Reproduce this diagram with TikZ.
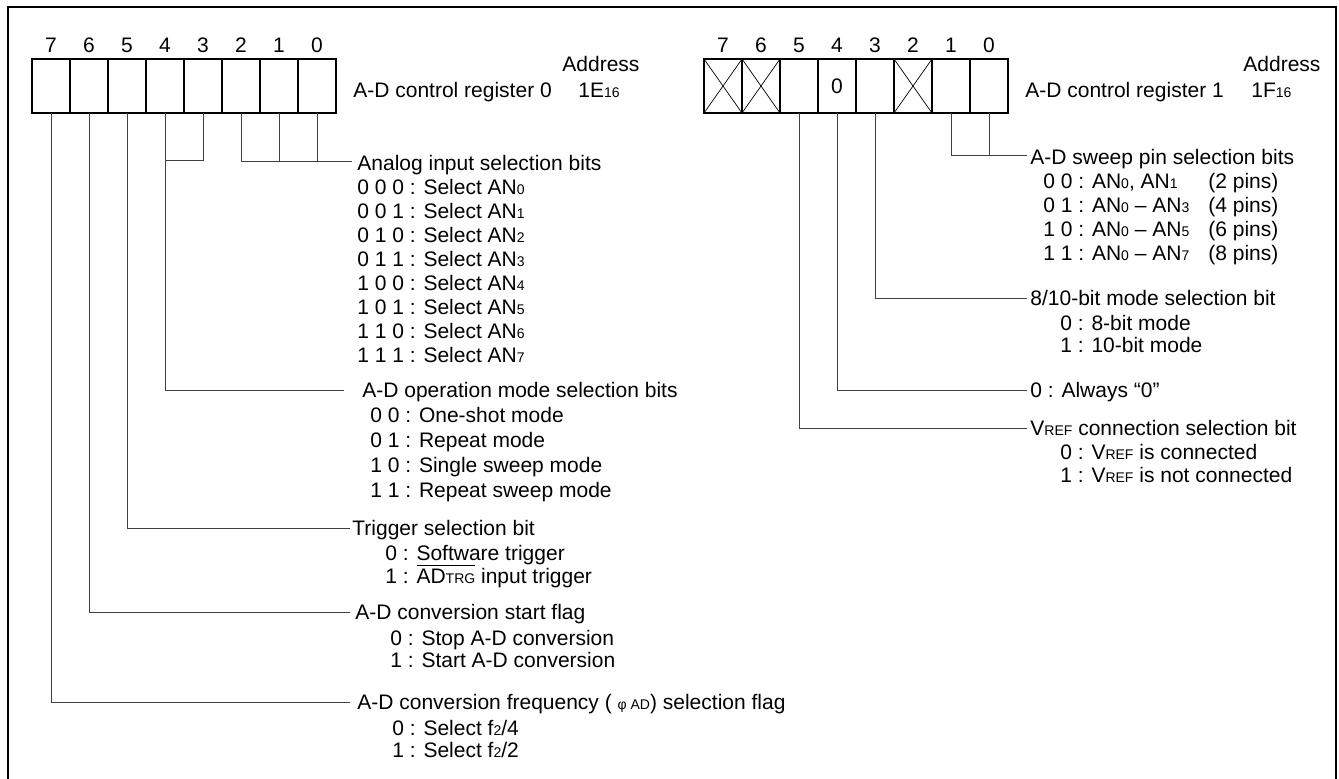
\documentclass[tikz,border=0pt]{standalone}
\usepackage{fontspec}
\setmainfont{Liberation Sans}
\usetikzlibrary{positioning}

\newcommand\sml[1]{{\fontsize{7}{8}\selectfont #1}}

\begin{document}
\begin{tikzpicture}[x=0.5pt, y=-0.5pt, font=\fontsize{10.5}{12}\selectfont,
    cell/.style={rectangle, draw, line width=1pt, minimum width=19pt, minimum height=27pt, inner sep=0pt, outer sep=0pt},
    bitno/.style={inner sep=0pt},
    txt/.style={anchor=base west, inner sep=0pt},
    lead/.style={draw=black!75, line width=0.5pt},
    cross/.style={draw, line width=0.35pt}]

    \useasboundingbox (0,0) rectangle (1339,778);
    \draw [line width=1.25pt] (8,800) -- (8,7) -- (1336,7) -- (1336,800);

    % register 0
    \foreach \b in {0,...,7} {
        \node [cell] (r0b\b) at ({51+38*(7-\b)},86) {};
        \node [bitno] (r0n\b) at ({51+38*(7-\b)},45) {\b};
    }
    \node [txt] (addr0) at (562,71) {Address};
    \node [txt] (name0) at (353,97) {A-D control register 0};
    \node [txt] (hex0) at (578,97) {1E\sml{16}};

    % register 1
    \foreach \b in {0,...,7} {
        \node [cell] (r1b\b) at ({723+38*(7-\b)},86) {};
        \node [bitno] (r1n\b) at ({723+38*(7-\b)},45) {\b};
    }
    \node (r1val) at (r1b4) {0};
    \foreach \b in {7,6,2}
        \draw [cross] (r1b\b.north west) -- (r1b\b.south east) (r1b\b.north east) -- (r1b\b.south west);
    \node [txt] (addr1) at (1243,71) {Address};
    \node [txt] (name1) at (1025,97) {A-D control register 1};
    \node [txt] (hex1) at (1251,97) {1F\sml{16}};

    % register 0 fields
    \coordinate (anaT) at (352,161);
    \coordinate (opT) at (344,390);
    \coordinate (trgT) at (350,528);
    \coordinate (stT) at (350,612);
    \coordinate (frqT) at (350,702);

    \draw [lead] (r0b2.south) |- (anaT);
    \draw [lead] (r0b1.south) -- (r0b1.south |- anaT);
    \draw [lead] (r0b0.south) -- (r0b0.south |- anaT);
    \draw [lead] (r0b3.south) |- (r0b4.south |- 0,160);
    \draw [lead] (r0b4.south) |- (opT);
    \draw [lead] (r0b5.south) |- (trgT);
    \draw [lead] (r0b6.south) |- (stT);
    \draw [lead] (r0b7.south) |- (frqT);

    \node [txt] (ana) at (357,170.5) {Analog input selection bits};
    \foreach \t [count=\k] in {{0 0 0 : Select AN\sml{0}}, {0 0 1 : Select AN\sml{1}},
        {0 1 0 : Select AN\sml{2}}, {0 1 1 : Select AN\sml{3}}, {1 0 0 : Select AN\sml{4}},
        {1 0 1 : Select AN\sml{5}}, {1 1 0 : Select AN\sml{6}}, {1 1 1 : Select AN\sml{7}}}
        \node [txt] (ana\k) at (357,{170.5+24*\k}) {\t};

    \node [txt] (op) at (362,397.5) {A-D operation mode selection bits};
    \foreach \t [count=\k] in {{0 0 : One-shot mode}, {0 1 : Repeat mode},
        {1 0 : Single sweep mode}, {1 1 : Repeat sweep mode}}
        \node [txt] (op\k) at (370,{397.5+25*\k}) {\t};

    \node [txt] (trg) at (352,535.5) {Trigger selection bit};
    \node [txt] (trg1) at (385,560) {0 : Software trigger};
    \node [txt] (trg2) at (385,583) {1 : $\overline{\hbox{AD\sml{TRG}}}$ input trigger};

    \node [txt] (st) at (355,619.5) {A-D conversion start flag};
    \node [txt] (st1) at (390,645) {0 : Stop A-D conversion};
    \node [txt] (st2) at (390,667.5) {1 : Start A-D conversion};

    \node [txt] (frq) at (357,709.5) {A-D conversion frequency ( \sml{φ AD}) selection flag};
    \node [txt] (frq1) at (392,735) {0 : Select f\sml{2}/4};
    \node [txt] (frq2) at (392,757.5) {1 : Select f\sml{2}/2};

    % register 1 fields
    \coordinate (swpT) at (1027,155);
    \coordinate (modT) at (1027,298);
    \coordinate (alwT) at (1027,390);
    \coordinate (refT) at (1027,428);

    \draw [lead] (r1b1.south) |- (swpT);
    \draw [lead] (r1b0.south) -- (r1b0.south |- swpT);
    \draw [lead] (r1b3.south) |- (modT);
    \draw [lead] (r1b4.south) |- (alwT);
    \draw [lead] (r1b5.south) |- (refT);

    \node [txt] (swp) at (1030,164) {A-D sweep pin selection bits};
    \foreach \t/\p [count=\k] in {{0 0 : AN\sml{0}, AN\sml{1}}/2, {0 1 : AN\sml{0} – AN\sml{3}}/4,
        {1 0 : AN\sml{0} – AN\sml{5}}/6, {1 1 : AN\sml{0} – AN\sml{7}}/8}
        \node [txt] (swp\k) at (1043,{164+24*\k}) {\makebox[82.5pt][l]{\t}(\p{} pins)};

    \node [txt] (mod) at (1030,305.5) {8/10-bit mode selection bit};
    \node [txt] (mod1) at (1060,330) {0 : 8-bit mode};
    \node [txt] (mod2) at (1060,352.5) {1 : 10-bit mode};

    \node [txt] (alw) at (1030,397.5) {0 : Always “0”};

    \node [txt] (ref) at (1030,435.5) {V\sml{REF} connection selection bit};
    \node [txt] (ref1) at (1060,459.5) {0 : V\sml{REF} is connected};
    \node [txt] (ref2) at (1060,482.5) {1 : V\sml{REF} is not connected};
\end{tikzpicture}
\end{document}
